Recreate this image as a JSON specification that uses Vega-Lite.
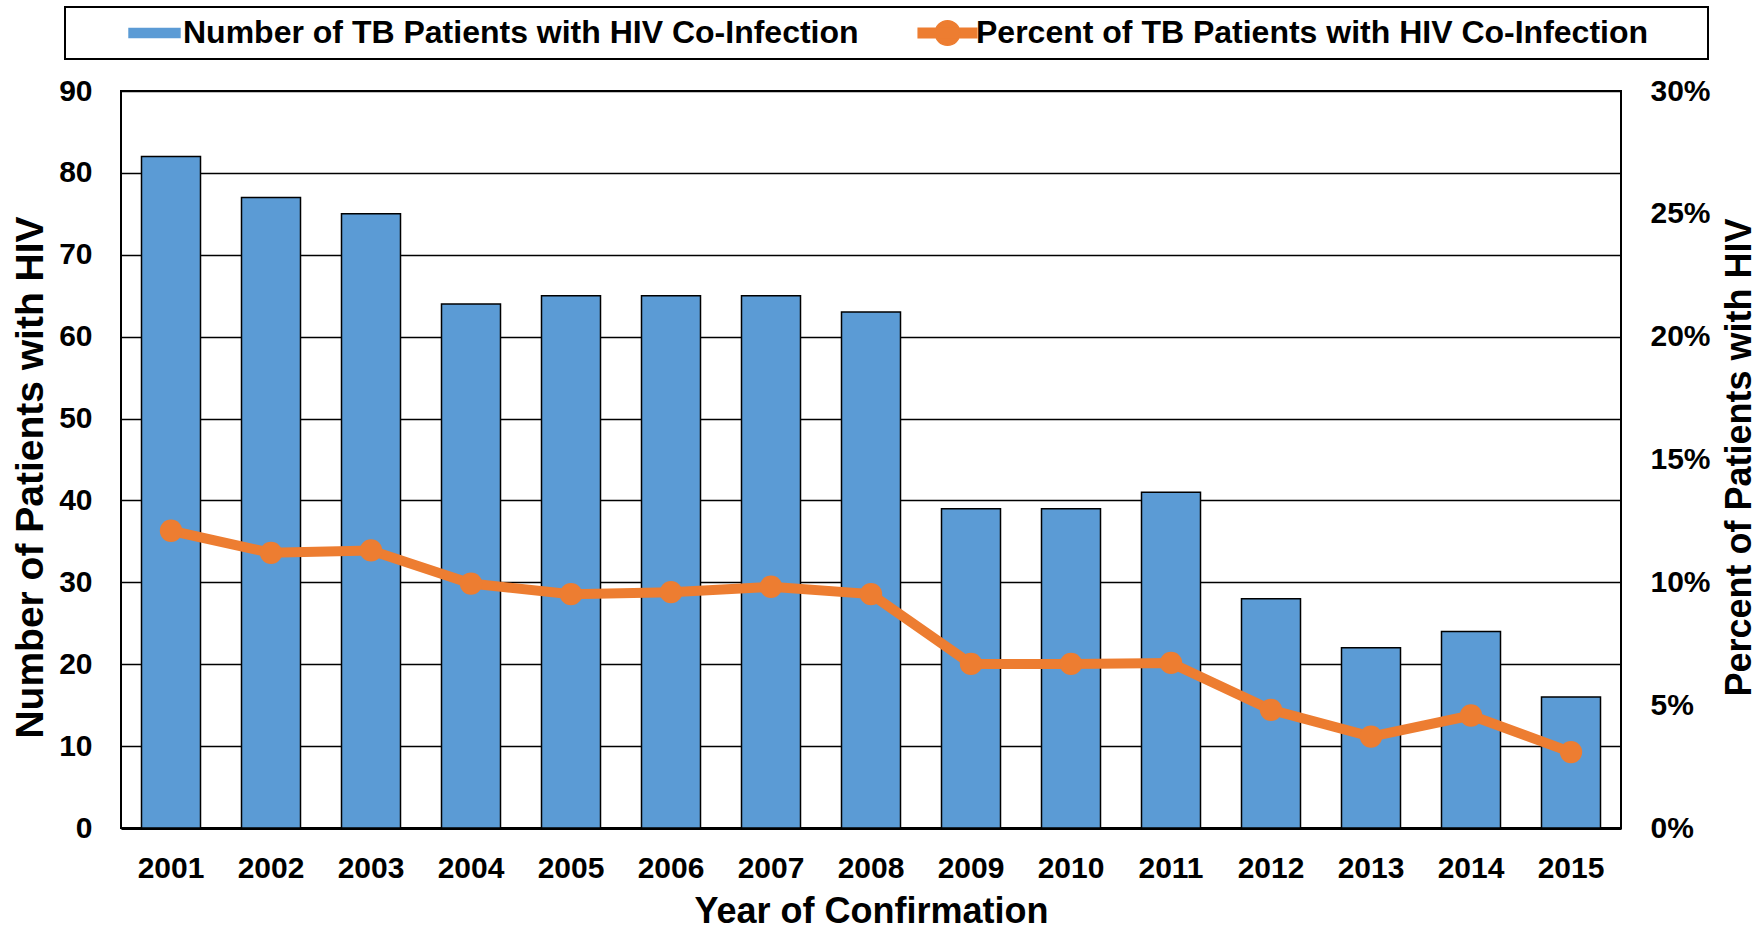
{
  "$schema": "https://vega.github.io/schema/vega-lite/v6.json",
  "width": 1500,
  "height": 737,
  "autosize": {"type": "none"},
  "padding": {"left": 121, "top": 91, "right": 139, "bottom": 101},
  "background": "white",
  "config": {
    "font": "Liberation Sans",
    "view": {"stroke": "black", "strokeWidth": 2},
    "axis": {"labelColor": "black", "titleColor": "black", "labelFontWeight": "bold", "titleFontWeight": "bold", "labelFont": "Liberation Sans", "titleFont": "Liberation Sans"}
  },
  "data": {
    "values": [
      {"year": "2001", "count": 82, "pct": 0.121},
      {"year": "2002", "count": 77, "pct": 0.112},
      {"year": "2003", "count": 75, "pct": 0.113},
      {"year": "2004", "count": 64, "pct": 0.0995},
      {"year": "2005", "count": 65, "pct": 0.0952},
      {"year": "2006", "count": 65, "pct": 0.096},
      {"year": "2007", "count": 65, "pct": 0.0982},
      {"year": "2008", "count": 63, "pct": 0.0952},
      {"year": "2009", "count": 39, "pct": 0.0668},
      {"year": "2010", "count": 39, "pct": 0.0668},
      {"year": "2011", "count": 41, "pct": 0.0672},
      {"year": "2012", "count": 28, "pct": 0.0481},
      {"year": "2013", "count": 22, "pct": 0.0372},
      {"year": "2014", "count": 24, "pct": 0.0458},
      {"year": "2015", "count": 16, "pct": 0.0309}
    ]
  },
  "encoding": {
    "x": {
      "field": "year",
      "type": "ordinal",
      "scale": {"paddingInner": 0.41, "paddingOuter": 0.205},
      "axis": {
        "labelAngle": 0,
        "labelFontSize": 30,
        "ticks": false,
        "labelPadding": 25,
        "domainColor": "black",
        "domainWidth": 3,
        "grid": false,
        "title": "Year of Confirmation",
        "titleFontSize": 36,
        "titlePadding": 11
      }
    }
  },
  "layer": [
    {
      "mark": {"type": "bar", "stroke": "black", "strokeWidth": 1.5},
      "encoding": {
        "y": {
          "field": "count",
          "type": "quantitative",
          "scale": {"domain": [0, 90], "nice": false},
          "axis": {
            "values": [0, 10, 20, 30, 40, 50, 60, 70, 80, 90],
            "grid": true,
            "gridColor": "black",
            "gridWidth": 1.3,
            "domain": false,
            "ticks": false,
            "labelPadding": 29,
            "labelFontSize": 30,
            "title": "Number of Patients with HIV",
            "titleFontSize": 39,
            "titleAngle": -90,
            "titleX": -79,
            "titleY": 386,
            "titleBaseline": "alphabetic",
            "titleAlign": "center"
          }
        },
        "color": {
          "datum": "Number of TB Patients with HIV Co-Infection",
          "type": "nominal",
          "scale": {
            "domain": ["Number of TB Patients with HIV Co-Infection", "Percent of TB Patients with HIV Co-Infection"],
            "range": ["#5B9BD5", "#ED7D31"]
          },
          "legend": {
            "orient": "none",
            "legendX": -56,
            "legendY": -84,
            "direction": "horizontal",
            "columns": 2,
            "title": "\u00a0",
            "titleOrient": "right",
            "titlePadding": 51,
            "titleFontSize": 32,
            "padding": 9,
            "strokeColor": "black",
            "fillColor": "white",
            "labelFont": "Liberation Sans",
            "labelFontSize": 32,
            "labelFontWeight": "bold",
            "labelColor": "black",
            "labelLimit": 2000,
            "symbolSize": 3000,
            "symbolStrokeWidth": 1.5,
            "symbolOffset": 52,
            "labelOffset": 0,
            "columnPadding": 8,
            "clipHeight": 34,
            "encoding": {
              "legend": {"strokeWidth": {"value": 2}},
              "symbols": {
                "shape": {"value": {"expr": "datum.value == 'Number of TB Patients with HIV Co-Infection' ? 'M-0.93,-0.165L0.93,-0.165L0.93,0.165L-0.93,0.165Z' : 'M-1.07,-0.17L1.07,-0.17L1.07,0.17L-1.07,0.17Z M0.45,0A0.45,0.45 0 1,1 -0.45,0A0.45,0.45 0 1,1 0.45,0Z'"}},
                "fill": {"value": {"expr": "datum.value == 'Number of TB Patients with HIV Co-Infection' ? '#5B9BD5' : '#ED7D31'"}},
                "stroke": {"value": {"expr": "datum.value == 'Number of TB Patients with HIV Co-Infection' ? 'black' : '#ED7D31'"}},
                "strokeWidth": {"value": 1.5},
                "size": {"value": 3000},
                "opacity": {"value": 1},
                "fillOpacity": {"value": 1},
                "strokeOpacity": {"value": 1}
              }
            }
          }
        }
      }
    },
    {
      "mark": {"type": "line", "strokeWidth": 10, "point": {"filled": true, "size": 500}},
      "encoding": {
        "y": {
          "field": "pct",
          "type": "quantitative",
          "scale": {"domain": [0, 0.3], "nice": false},
          "axis": {
            "orient": "right",
            "format": ".0%",
            "values": [0, 0.05, 0.1, 0.15, 0.2, 0.25, 0.3],
            "grid": false,
            "domain": false,
            "ticks": false,
            "labelPadding": 29,
            "labelFontSize": 30,
            "title": "Percent of Patients with HIV",
            "titleFontSize": 36,
            "titleAngle": -90,
            "titleX": 129,
            "titleY": 366,
            "titleBaseline": "alphabetic",
            "titleAlign": "center"
          }
        },
        "color": {"datum": "Percent of TB Patients with HIV Co-Infection", "type": "nominal"}
      }
    }
  ],
  "resolve": {"scale": {"y": "independent"}}
}
